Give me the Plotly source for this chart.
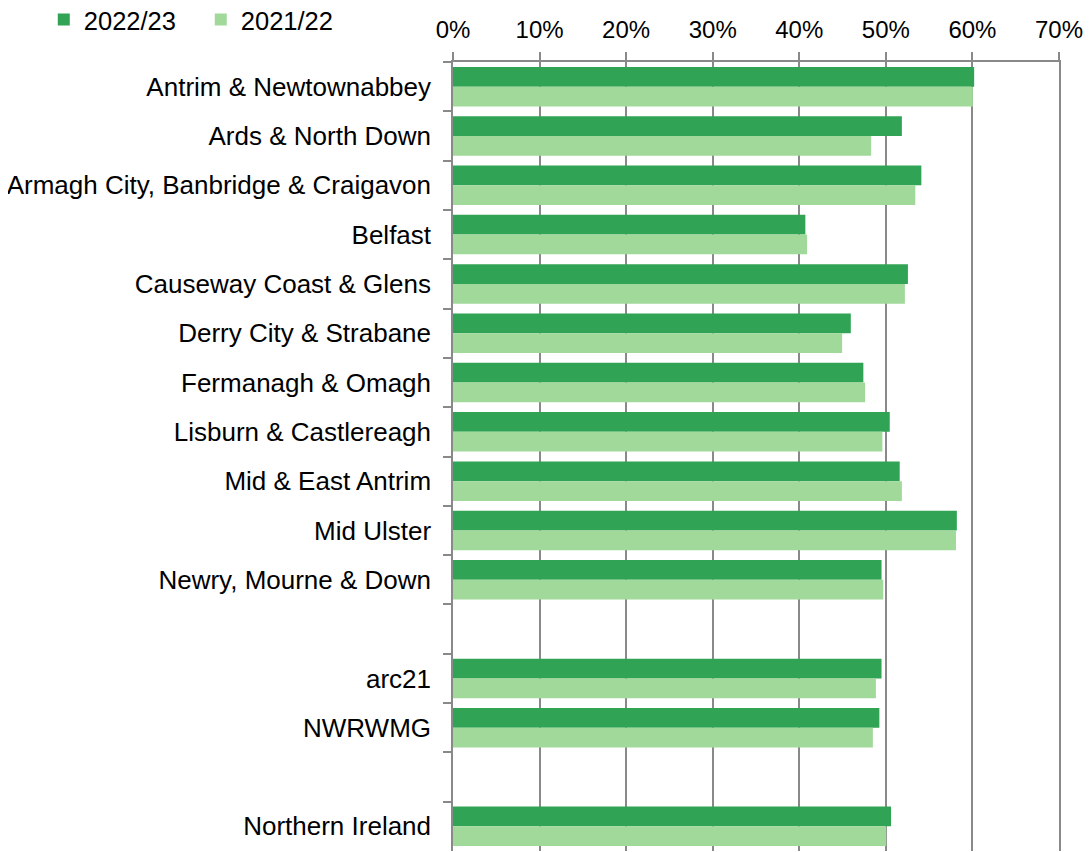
import plotly.graph_objects as go

categories = [
    "Antrim & Newtownabbey",
    "Ards & North Down",
    "Armagh City, Banbridge & Craigavon",
    "Belfast",
    "Causeway Coast & Glens",
    "Derry City & Strabane",
    "Fermanagh & Omagh",
    "Lisburn & Castlereagh",
    "Mid & East Antrim",
    "Mid Ulster",
    "Newry, Mourne & Down",
    " ",
    "arc21",
    "NWRWMG",
    "  ",
    "Northern Ireland",
]

# percentages
rate_2022_23 = [60.2, 51.85, 54.1, 40.7, 52.55, 45.95, 47.4, 50.45, 51.6, 58.2, 49.5, None, 49.5, 49.25, None, 50.6]
rate_2021_22 = [60.05, 48.3, 53.4, 40.9, 52.2, 44.95, 47.6, 49.6, 51.85, 58.1, 49.7, None, 48.85, 48.5, None, 50.05]

series_names = ["2022/23", "2021/22"]
series_colors = ["#31a354", "#a1d99b"]

x_ticks = [0, 0.1, 0.2, 0.3, 0.4, 0.5, 0.6, 0.7]

def frac(vals):
    return [None if v is None else v / 100 for v in vals]

FONT = "Liberation Sans, Arial, sans-serif"
GRID = "#898989"

fig = go.Figure()
for name, vals, col in zip(series_names, [rate_2022_23, rate_2021_22], series_colors):
    fig.add_trace(go.Bar(
        y=categories, x=frac(vals), name=name, orientation="h",
        marker=dict(color=col, line=dict(width=0)),
    ))

# page body has an 8px default margin, so the figure is sized/offset for it
fig.update_layout(
    width=1084, height=844,
    margin=dict(l=445, r=33, t=54, b=1, pad=0, autoexpand=False),
    barmode="group", bargap=0.2, bargroupgap=0,
    plot_bgcolor="white", paper_bgcolor="white",
    font=dict(family=FONT, size=24, color="black"),
    legend=dict(orientation="h", xref="container", yref="container",
                x=0.033, xanchor="left", y=0.9858, yanchor="middle",
                font=dict(size=25.5), itemwidth=30, traceorder="normal",
                entrywidth=112, entrywidthmode="pixels"),
)
fig.update_xaxes(
    side="top", range=[0, 0.7], tickvals=x_ticks, tickformat=".0%",
    showgrid=True, gridcolor=GRID, gridwidth=1.5,
    showline=True, linecolor=GRID, linewidth=1.5,
    ticks="outside", ticklen=8, tickcolor=GRID, tickwidth=1.5,
    ticklabelstandoff=5, tickfont=dict(size=24), automargin=False,
    zeroline=False, fixedrange=True,
)
fig.update_yaxes(
    categoryorder="array", categoryarray=categories, autorange="reversed",
    showgrid=False, showline=True, linecolor=GRID, linewidth=1.5, mirror=True,
    ticks="outside", tickson="boundaries", ticklen=8, tickcolor=GRID, tickwidth=1.5,
    ticklabelstandoff=15, tickfont=dict(size=26), zeroline=False, automargin=False,
)

fig.write_html("out.html")
